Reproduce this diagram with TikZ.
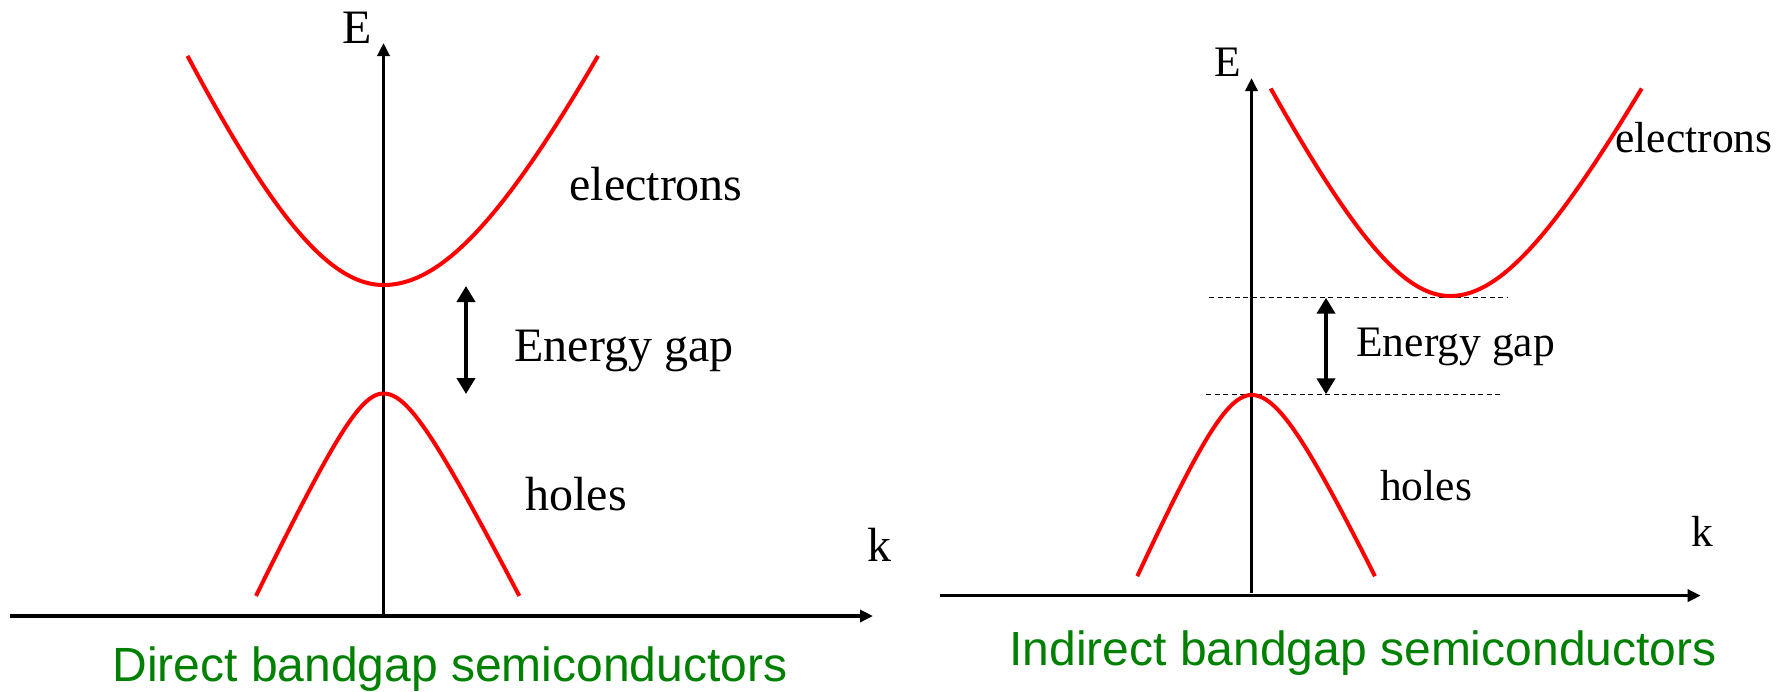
\documentclass[tikz,border=0pt]{standalone}
\usepackage{fontspec}
\setmainfont{Liberation Serif}
\newfontfamily\sansgreen{Liberation Sans}
\usetikzlibrary{arrows.meta}
\definecolor{capgreen}{RGB}{0,128,0}
\definecolor{bandred}{RGB}{255,0,0}
\begin{document}
\begin{tikzpicture}[x=0.5pt,y=-0.5pt,
  axis/.style={line width=1.8pt,-{Triangle[width=6pt,length=6.5pt]}},
  band/.style={line width=2pt,bandred,line join=round},
  gaparrow/.style={line width=2pt,{Triangle[width=9pt,length=8pt]}-{Triangle[width=9pt,length=8pt]}},
  level/.style={line width=0.6pt,dash pattern=on 2.5pt off 1.75pt},
  bigtext/.style={inner sep=0pt,anchor=base,font=\fontsize{24}{28}\selectfont},
  smalltext/.style={inner sep=0pt,anchor=base,font=\fontsize{21.75}{26}\selectfont},
  caption/.style={inner sep=0pt,anchor=base,text=capgreen,font=\sansgreen\fontsize{24}{28}\selectfont}]
\useasboundingbox (0,0) rectangle (1781,691);

% ---------- left panel: direct bandgap ----------
\coordinate (L-xs) at (10,616);
\coordinate (L-xe) at (873,616);
\coordinate (L-yb) at (383.5,614);
\coordinate (L-yt) at (383.5,43);
\draw[axis] (L-xs) -- (L-xe);
\draw[axis] (L-yb) -- (L-yt);

\draw[band] plot[domain=-196:0,samples=80] ({383.5+\x},{285-355*(sqrt(1+(\x/150)*(\x/150))-1)})
  -- plot[domain=0:196,samples=80] ({383.5+1.0944*\x},{285-355*(sqrt(1+(\x/150)*(\x/150))-1)});
\draw[band] plot[domain=-127.5:0,samples=80] ({383.5+\x},{393.5+78.2*(sqrt(1+(\x/37)*(\x/37))-1)})
  -- plot[domain=0:127.5,samples=80] ({383.5+1.065*\x},{393.5+78.2*(sqrt(1+(\x/37)*(\x/37))-1)});

\coordinate (L-gt) at (466,286);
\coordinate (L-gb) at (466,394);
\draw[gaparrow] (L-gt) -- (L-gb);

\node[bigtext] (L-E) at (357.5,43.3) {E};
\node[bigtext] (L-k) at (879,561) {k};
\node[bigtext] (L-el) at (656,200.4) {electrons};
\node[bigtext] (L-gap) at (624,361.2) {Energy gap};
\node[bigtext] (L-h) at (576,510) {holes};
\node[caption] (L-cap) at (450,681.7) {Direct bandgap semiconductors};

% ---------- right panel: indirect bandgap ----------
\coordinate (R-xs) at (939.5,595.6);
\coordinate (R-xe) at (1700.7,595.6);
\coordinate (R-yb) at (1251.5,593);
\coordinate (R-yt) at (1251.5,78);
\draw[axis] (R-xs) -- (R-xe);
\draw[axis] (R-yb) -- (R-yt);

\coordinate (R-u1) at (1209,297.7);
\coordinate (R-u2) at (1506.7,297.7);
\coordinate (R-l1) at (1206,394.3);
\coordinate (R-l2) at (1503,394.3);
\draw[level] (R-u1) -- (R-u2);
\draw[level] (R-l1) -- (R-l2);

\draw[band] plot[domain=-179.3:0,samples=80] ({1450+\x},{296-237*(sqrt(1+(\x/113)*(\x/113))-1)})
  -- plot[domain=0:179.3,samples=80] ({1450+1.069*\x},{296-237*(sqrt(1+(\x/113)*(\x/113))-1)});
\draw[band] plot[domain=-114.2:0,samples=80] ({1251.5+\x},{395+98.6*(sqrt(1+(\x/43)*(\x/43))-1)})
  -- plot[domain=0:114.2,samples=80] ({1251.5+1.081*\x},{395+98.6*(sqrt(1+(\x/43)*(\x/43))-1)});

\coordinate (R-gt) at (1326,297.7);
\coordinate (R-gb) at (1326,394.3);
\draw[gaparrow] (R-gt) -- (R-gb);

\node[smalltext] (R-E) at (1228,76.7) {E};
\node[smalltext] (R-k) at (1702.5,546) {k};
\node[smalltext] (R-el) at (1694,152) {electrons};
\node[smalltext] (R-gap) at (1455.6,356.5) {Energy gap};
\node[smalltext] (R-h) at (1426,500) {holes};
\node[caption] (R-cap) at (1363,665) {Indirect bandgap semiconductors};
\end{tikzpicture}
\end{document}
